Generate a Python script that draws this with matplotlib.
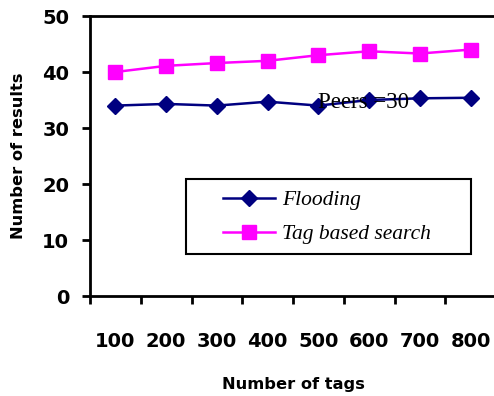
import numpy as np
import matplotlib.pyplot as plt
from matplotlib.patches import Rectangle

tags = ['100', '200', '300', '400', '500', '600', '700', '800']
flooding = [34.0, 34.3, 34.0, 34.7, 34.0, 35.0, 35.3, 35.4]
tag_search = [40.0, 41.1, 41.6, 42.0, 43.0, 43.7, 43.3, 44.0]

fig = plt.figure(figsize=(4.94, 3.96), dpi=100)
ax = fig.add_axes([90/494, 100/396, 406/494, 280/396])

x = np.arange(len(tags))
ax.plot(x, flooding, color='#000080', marker='D', markersize=8.5, lw=1.8, label='Flooding')
ax.plot(x, tag_search, color='#FF00FF', marker='s', markersize=10, lw=1.8, label='Tag based search')

ax.set_xlim(-0.5, len(tags) - 0.5)
ax.set_ylim(0, 50)
ax.set_yticks([0, 10, 20, 30, 40, 50])
ax.set_xticks(np.arange(len(tags) + 1) - 0.5)
ax.set_xticklabels([])
ax.set_xticks(x, minor=True)
ax.set_xticklabels(tags, minor=True)
ax.tick_params(axis='x', which='minor', length=0, pad=26)
ax.tick_params(axis='both', which='major', direction='out', length=6, width=2)
for lab in ax.get_xticklabels(minor=True) + ax.get_yticklabels():
    lab.set_fontsize(14)
    lab.set_fontweight('bold')
ax.tick_params(axis='y', pad=9)

for s in ['left', 'bottom', 'top']:
    ax.spines[s].set_linewidth(2)
ax.spines['right'].set_visible(False)

ax.set_xlabel('Number of tags', fontsize=11.7, fontweight='bold')
ax.set_ylabel('Number of results', fontsize=11.7, fontweight='bold')
ax.xaxis.set_label_coords(0.5, -0.289)
ax.yaxis.set_label_coords(-0.158, 0.5)

fig.text(318/494, 1 - 103/396, 'Peers =30', fontsize=16.5, family='Liberation Serif', va='center', ha='left')

# legend box drawn separately so the entries can sit inside it like the original
ax.add_patch(Rectangle((186/494, 1 - 254/396), 285/494, 75/396, transform=fig.transFigure,
                       facecolor='white', edgecolor='black', lw=1.5, zorder=3, clip_on=False))
leg = ax.legend(loc='upper left', bbox_to_anchor=(223/494, 1 - 190/396), bbox_transform=fig.transFigure,
                frameon=False, borderaxespad=0, borderpad=0,
                prop={'family': 'Liberation Serif', 'style': 'italic', 'size': 15.5},
                handlelength=2.4, handletextpad=0.35, labelspacing=0.65)
leg.set_zorder(4)

fig.savefig('out.png', dpi=100)
